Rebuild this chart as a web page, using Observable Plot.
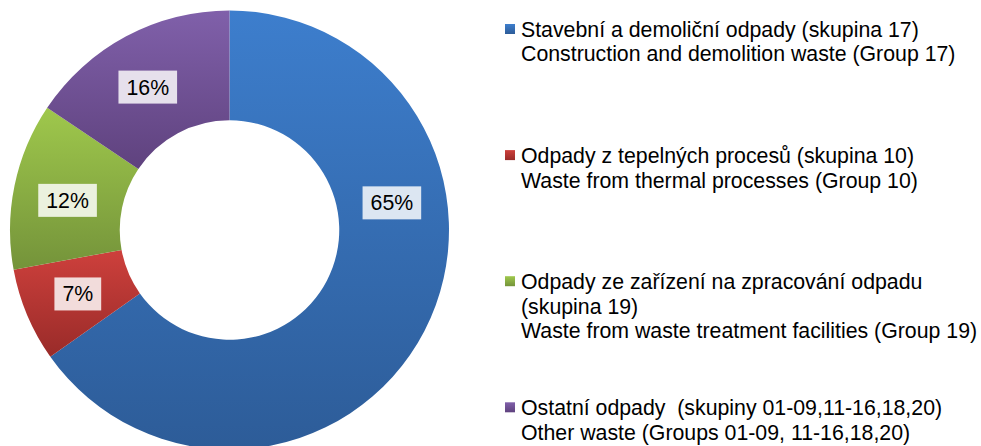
<!DOCTYPE html>
<html><head><meta charset="utf-8">
<script src="https://cdn.jsdelivr.net/npm/d3@7"></script>
<script src="https://cdn.jsdelivr.net/npm/@observablehq/plot@0.6"></script>
<style>body{margin:0;background:#fff}</style>
</head><body><div id="chart"></div>
<script>
// ---- data ----
const categories = ["Stavební a demoliční odpady", "Odpady z tepelných procesů", "Odpady ze zařízení na zpracování odpadu", "Ostatní odpady"];
const legendLines = [
  ["Stavební a demoliční odpady (skupina 17)", "Construction and demolition waste (Group 17)"],
  ["Odpady z tepelných procesů (skupina 10)", "Waste from thermal processes (Group 10)"],
  ["Odpady ze zařízení na zpracování odpadu", "(skupina 19)", "Waste from waste treatment facilities (Group 19)"],
  ["Ostatní odpady  (skupiny 01-09,11-16,18,20)", "Other waste (Groups 01-09, 11-16,18,20)"]
];
const shares = [65.2, 6.9, 12.3, 15.6];
const shareLabels = ["65%", "7%", "12%", "16%"];

// ---- styles ----
const colorsTop = ["#3d7ecd", "#ce403c", "#9fc84c", "#8060aa"];
const colorsBottom = ["#2d5c98", "#992b29", "#74933a", "#5f427e"];
const labelBg = ["#dce6f2", "#f2dcdb", "#ebf1de", "#e6e0ec"];
const labelFrac = [0.343, 0.5, 0.47, 0.47];
const FONT = "'Liberation Sans', Arial, sans-serif";
const FS = 21.3;

const measure = (() => {
  const ctx = document.createElement("canvas").getContext("2d");
  ctx.font = `${FS}px 'Liberation Sans'`;
  return (t) => ctx.measureText(t).width;
})();

const donut = (index, scales) => {
  const g = d3.create("svg:g");
  const cx = scales.x(0), cy = scales.y(0);
  const rOuter = scales.x(1) - cx;
  const rInner = rOuter * 0.5;
  const arcs = d3.pie().sort(null).value(d => d)(shares);
  const arc = d3.arc().innerRadius(rInner).outerRadius(rOuter);
  const defs = g.append("defs");
  colorsTop.forEach((c, i) => {
    const lg = defs.append("linearGradient").attr("id", "grad" + i)
      .attr("x1", 0).attr("y1", 0).attr("x2", 0).attr("y2", 1);
    lg.append("stop").attr("offset", "0%").attr("stop-color", c);
    lg.append("stop").attr("offset", "100%").attr("stop-color", colorsBottom[i]);
  });
  g.append("g").attr("transform", `translate(${cx},${cy})`)
    .selectAll("path").data(arcs).join("path")
    .attr("d", arc).attr("fill", (d, i) => `url(#grad${i})`);
  // data labels
  const lr = rOuter * 0.75;
  arcs.forEach((d, i) => {
    const a = d.startAngle + labelFrac[i] * (d.endAngle - d.startAngle);
    const x = cx + lr * Math.sin(a), y = cy - lr * Math.cos(a);
    const w = measure(shareLabels[i]) + 16, h = 33;
    g.append("rect").attr("x", x - w / 2).attr("y", y - h / 2).attr("width", w).attr("height", h).attr("fill", labelBg[i]);
    g.append("text").attr("x", x).attr("y", y + 7.5).attr("text-anchor", "middle")
      .attr("font-family", FONT).attr("font-size", FS).attr("fill", "#000").text(shareLabels[i]);
  });
  // legend
  const lx = 505, base0 = 37, step = 126.1, lh = 24.4;
  legendLines.forEach((lines, i) => {
    const b = base0 + i * step;
    g.append("rect").attr("x", lx).attr("y", b - 13).attr("width", 10).attr("height", 10).attr("fill", `url(#grad${i})`);
    lines.forEach((t, k) => {
      g.append("text").attr("x", lx + 16).attr("y", b + k * lh).attr("text-anchor", "start")
        .attr("font-family", FONT).attr("font-size", FS).attr("fill", "#000")
        .style("white-space", "pre").text(t);
    });
  });
  return g.node();
};

const chart = Plot.plot({
  width: 981,
  height: 446,
  margin: 0,
  style: {background: "#fff", overflow: "visible"},
  x: {domain: [-1, 1], range: [10, 449], axis: null},
  y: {domain: [-1, 1], range: [449.5, 10.5], axis: null},
  marks: [donut]
});
document.getElementById("chart").appendChild(chart);
</script>
</body></html>
